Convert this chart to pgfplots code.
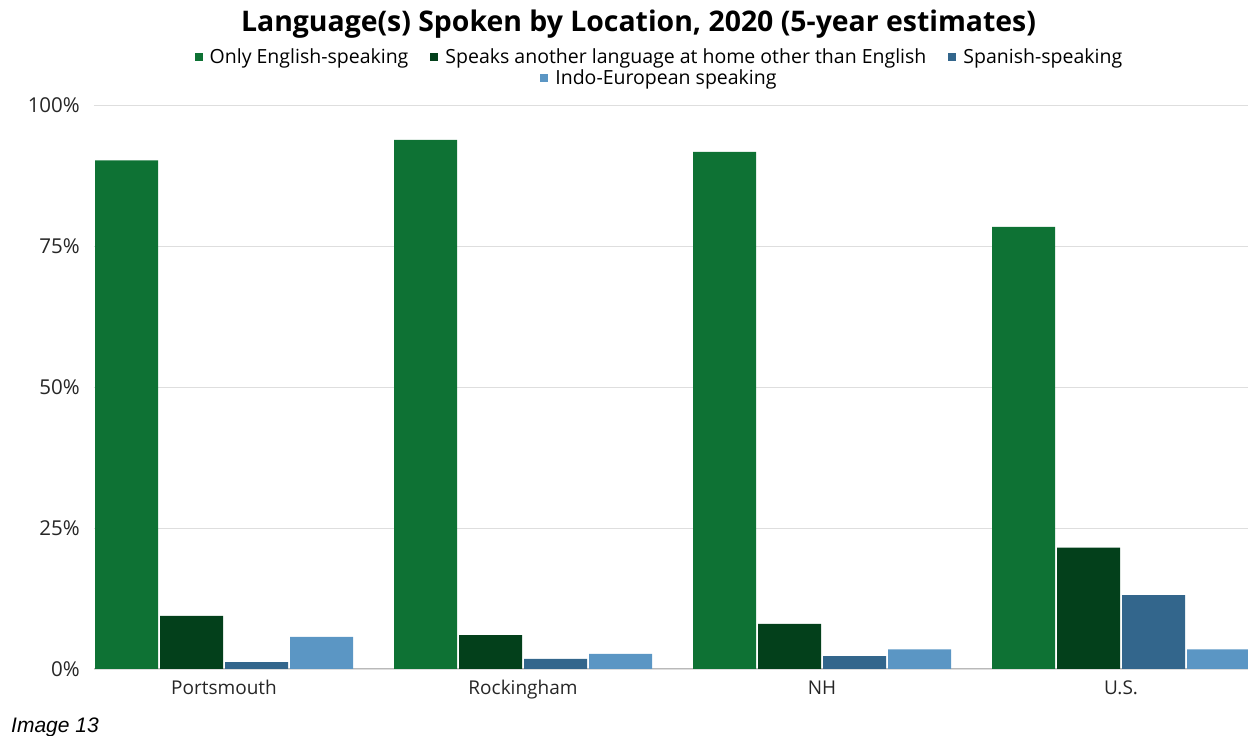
\documentclass[border=0pt]{standalone}
\usepackage{fontspec}
\setmainfont{Open Sans}
\newfontfamily\imgfont{Liberation Sans}
\usepackage{pgfplots}
\pgfplotsset{compat=1.18}
\definecolor{cA}{RGB}{14,114,52}
\definecolor{cB}{RGB}{3,64,27}
\definecolor{cC}{RGB}{51,102,140}
\definecolor{cD}{RGB}{91,150,196}
\definecolor{gridc}{RGB}{222,222,222}
\definecolor{axc}{RGB}{185,185,185}
\pgfplotsset{
  common/.style={
    at={(94pt,67pt)}, anchor=south west,
    scale only axis, width=1154pt, height=564pt,
    xmin=-0.4348, xmax=3.4247, ymin=0, ymax=100,
  },
  sqleg/.style={legend image code/.code={\fill[##1] (0pt,-4pt) rectangle (8pt,4pt);}},
}
\begin{document}
\begin{tikzpicture}[x=1pt,y=1pt]
\useasboundingbox (0,0) rectangle (1248,736);
\begin{axis}[common,
  ybar=2pt, bar width=63pt,
  axis x line*=bottom, axis y line*=left,
  y axis line style={draw=none},
  x axis line style={draw=axc, line width=1pt},
  major tick length=0pt,
  xtick={0,1,2,3},
  xticklabels={Portsmouth,Rockingham,NH,U.S.},
  ytick={0,25,50,75,100},
  yticklabels={0\%,25\%,50\%,75\%,100\%},
  ymajorgrids, major grid style={draw=gridc, line width=0.8pt},
  tick label style={text=black!85},
  xticklabel style={yshift=-8pt, font=\fontsize{19}{23}\selectfont},
  yticklabel style={inner xsep=0pt, xshift=-14pt, font=\fontsize{20.5}{24}\selectfont},
  sqleg,
  legend columns=3,
  legend style={draw=none, fill=none, at={(0.490,1.085)}, anchor=center,
    font=\fontsize{19.5}{23}\selectfont,
    /tikz/every odd column/.append style={column sep=5pt},
    /tikz/every even column/.append style={column sep=20pt}},
]
\addplot[draw=none, fill=cA] coordinates {(0,90.2) (1,93.8) (2,91.7) (3,78.4)};
\addplot[draw=none, fill=cB] coordinates {(0,9.4) (1,6.0) (2,8.0) (3,21.5)};
\addplot[draw=none, fill=cC] coordinates {(0,1.2) (1,1.8) (2,2.3) (3,13.1)};
\addplot[draw=none, fill=cD] coordinates {(0,5.7) (1,2.7) (2,3.5) (3,3.5)};
\legend{Only English-speaking, Speaks another language at home other than English, Spanish-speaking}
\end{axis}
\begin{axis}[common, hide axis, sqleg,
  legend style={draw=none, fill=none, at={(0.490,1.048)}, anchor=center,
    font=\fontsize{19.5}{23}\selectfont,
    /tikz/every odd column/.append style={column sep=5pt}}]
\addlegendimage{draw=none, fill=cD}
\addlegendentry{Indo-European speaking}
\end{axis}
\node[font=\bfseries\fontsize{28.4}{33}\selectfont] at (638.5,712) {Language(s) Spoken by Location, 2020 (5-year estimates)};
\node[anchor=west, inner sep=0pt, font=\imgfont\itshape\fontsize{21}{25}\selectfont] at (11,9) {Image 13};
\end{tikzpicture}
\end{document}
